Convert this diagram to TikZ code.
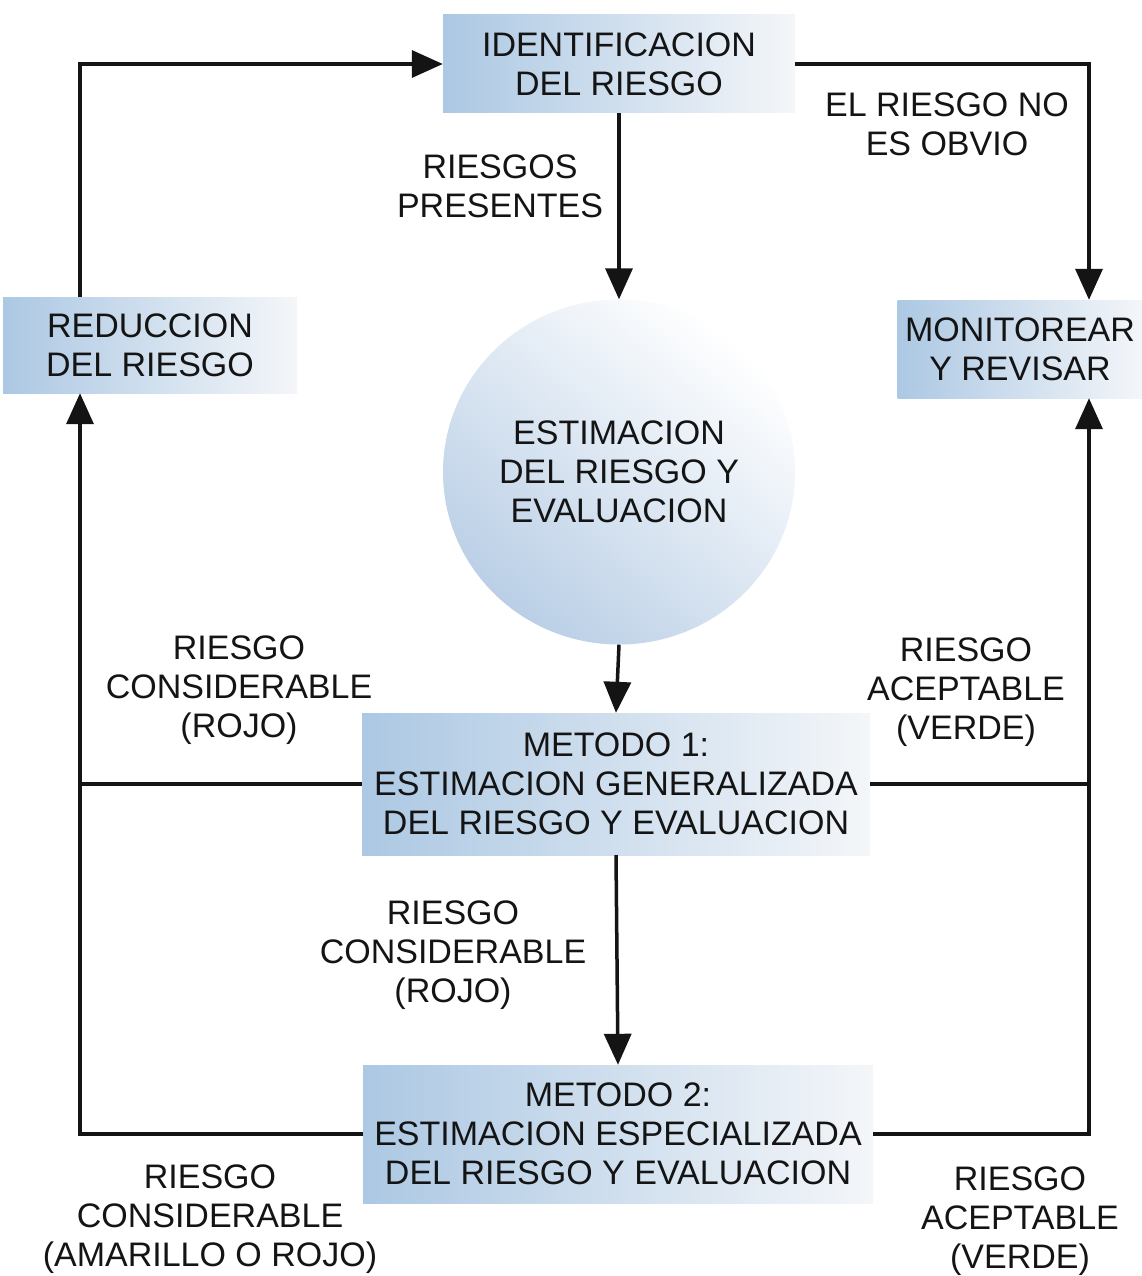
\documentclass[tikz,border=0pt]{standalone}
\usepackage{fontspec}
\setmainfont{Liberation Sans}
\usetikzlibrary{arrows.meta,shapes.geometric}
\definecolor{boxblue}{RGB}{172,200,227}
\definecolor{boxwhite}{RGB}{244,246,249}
\definecolor{circblue}{RGB}{186,207,230}
\definecolor{inkc}{RGB}{20,20,20}
\tikzset{
  every node/.style={font=\fontsize{34}{39}\selectfont, text=inkc},
  blbox/.style={rectangle, left color=boxblue, right color=boxwhite, draw=none, align=center, inner sep=0pt},
  lbl/.style={align=center, inner sep=0pt},
  conn/.style={draw=inkc, line width=3.5pt},
  arr/.style={conn, -{Triangle[width=27pt,length=31pt]}},
}
\begin{document}
\begin{tikzpicture}[x=1pt,y=-1pt]
\useasboundingbox (0,0) rectangle (1142,1276);
\fill[white] (0,0) rectangle (1142,1276);

\node[blbox, minimum width=352pt, minimum height=98pt] (ident) at (619,64) {IDENTIFICACION\\DEL RIESGO};
\node[blbox, minimum width=294pt, minimum height=96pt] (reduc) at (150,345) {REDUCCION\\DEL RIESGO};
\node[blbox, minimum width=245pt, minimum height=98pt] (monit) at (1020,349) {MONITOREAR\\Y REVISAR};
\node[ellipse, minimum width=352pt, minimum height=345pt, inner sep=0pt, draw=none,
      top color=white, bottom color=circblue, shading angle=-40, align=center] (estim) at (619,472)
      {ESTIMACION\\DEL RIESGO Y\\EVALUACION};
\node[blbox, minimum width=508pt, minimum height=142pt] (met1) at (616,784) {METODO 1:\\ESTIMACION GENERALIZADA\\DEL RIESGO Y EVALUACION};
\node[blbox, minimum width=510pt, minimum height=138pt] (met2) at (618,1134) {METODO 2:\\ESTIMACION ESPECIALIZADA\\DEL RIESGO Y EVALUACION};

\coordinate (lx) at (80,0);
\coordinate (rx) at (1089,0);

% labels
\node[lbl] (l1) at (500,186) {RIESGOS\\PRESENTES};
\node[lbl] (l2) at (947,124) {EL RIESGO NO\\ES OBVIO};
\node[lbl] (l3) at (239,690) {RIESGO\\CONSIDERABLE\\(ROJO)};
\node[lbl] (l4) at (966,692) {RIESGO\\ACEPTABLE\\(VERDE)};
\node[lbl] (l5) at (453,955) {RIESGO\\CONSIDERABLE\\(ROJO)};
\node[lbl] (l6) at (210,1219) {RIESGO\\CONSIDERABLE\\(AMARILLO O ROJO)};
\node[lbl] (l7) at (1020,1221) {RIESGO\\ACEPTABLE\\(VERDE)};

% connectors
\draw[arr] (reduc.north -| lx) |- (ident.west);
\draw[arr] (ident.east) -| (monit.north -| rx);
\draw[arr] (ident.south) -- (estim.north);
\draw[arr] (estim.south) -- (met1.north);
\draw[arr] (met1.south) -- (met2.north);
\draw[arr] (met2.west) -| (reduc.south -| lx);
\draw[arr] (met2.east) -| (monit.south -| rx);
\draw[conn] (met1.west) -- (met1.west -| lx);
\draw[conn] (met1.east) -- (met1.east -| rx);
\end{tikzpicture}
\end{document}
